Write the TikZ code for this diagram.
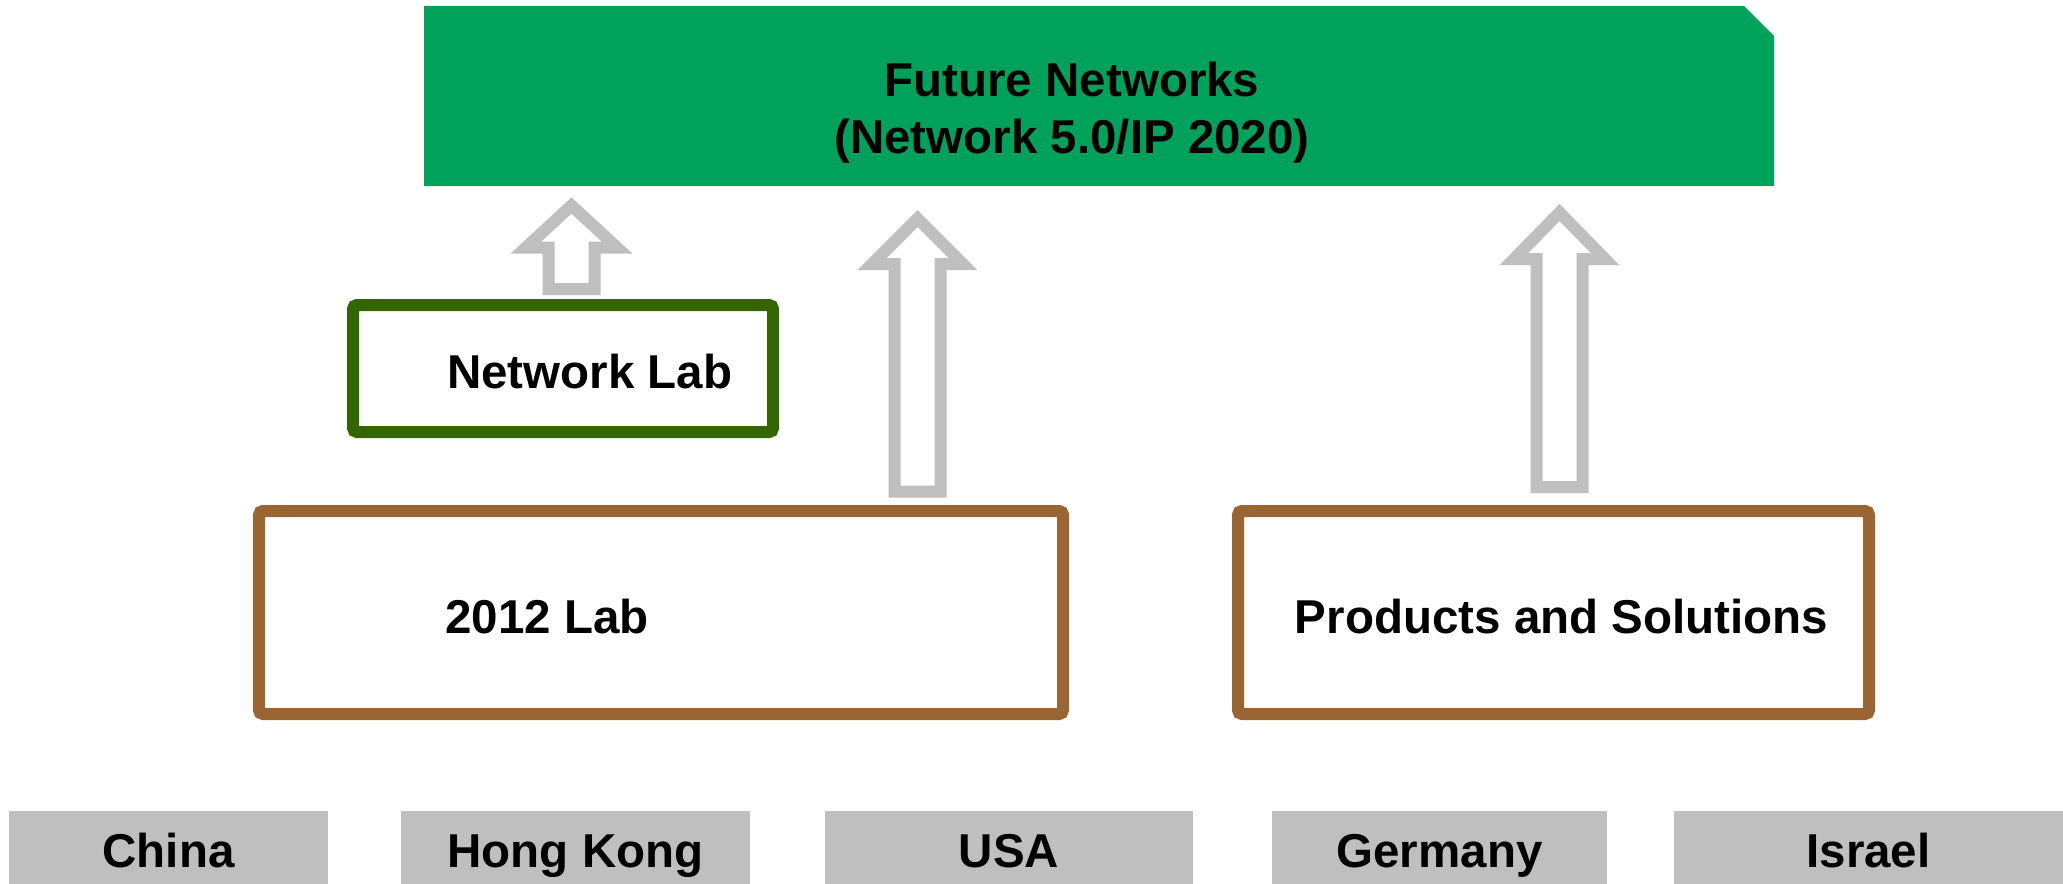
\documentclass[tikz,border=0pt]{standalone}
\usepackage{fontspec}
\setmainfont{Liberation Sans}
\usetikzlibrary{calc}
\definecolor{fngreen}{RGB}{0,161,90}
\definecolor{nlgreen}{RGB}{51,102,0}
\definecolor{labbrown}{RGB}{153,102,51}
\definecolor{arrgray}{RGB}{191,191,191}
\newcommand\blockarrow[3]{%
  \draw[blockarr] let \p1=(#1), \p2=(#2) in
    (\x1-23pt,\y1) -- (\x1-23pt,\y2-#3) -- (\x1-45.5pt,\y2-#3) -- (\x1,\y2)
    -- (\x1+45.5pt,\y2-#3) -- (\x1+23pt,\y2-#3) -- (\x1+23pt,\y1) -- cycle;}
\begin{document}
\begin{tikzpicture}[x=1pt,y=-1pt,
  txt/.style={font=\fontsize{47.5}{57}\selectfont\bfseries, inner sep=0pt},
  labbox/.style={draw=labbrown, line width=12pt, rounded corners=4pt, fill=white, inner sep=0pt},
  nlbox/.style={draw=nlgreen, line width=12pt, rounded corners=4pt, fill=white, inner sep=0pt},
  country/.style={txt, fill=arrgray, minimum height=77pt, text height=35pt, text depth=0pt},
  blockarr/.style={draw=arrgray, line width=12pt, line join=miter, fill=white}]
\useasboundingbox[fill=white] (0,0) rectangle (2063,883);

% top box
\fill[fngreen] (424,6) -- (1744,6) -- (1774,36) -- (1774,186) -- (424,186) -- cycle;
\node[inner sep=0pt, minimum width=1350pt, minimum height=180pt] (fn) at (1099,96) {};
\node[txt, anchor=base] (fnt1) at (1072,96) {Future Networks};
\node[txt, anchor=base] (fnt2) at (1072,153) {(Network 5.0/IP 2020)};

% boxes
\node[nlbox, minimum width=420pt, minimum height=127pt] (nl) at (563,368.5) {};
\node[txt, anchor=base west] (nlt) at (447,388) {Network Lab};
\node[labbox, minimum width=804pt, minimum height=203pt] (lab) at (661,612.5) {};
\node[txt, anchor=base west] (labt) at (445,633) {2012 Lab};
\node[labbox, minimum width=631pt, minimum height=203pt] (ps) at (1553.5,612.5) {};
\node[txt, anchor=base] (pst) at (1561.5,633) {Products and Solutions};

% arrows
\coordinate (a1s) at (571.5,289);
\coordinate (a1e) at (571.5,205.5);
\blockarrow{a1s}{a1e}{42pt}
\coordinate (a2s) at (917.5,491.5);
\coordinate (a2e) at (917.5,218.5);
\blockarrow{a2s}{a2e}{45.5pt}
\coordinate (a3s) at (1559.5,487);
\coordinate (a3e) at (1559.5,212.5);
\blockarrow{a3s}{a3e}{46.5pt}

% countries
\node[country, minimum width=319pt] (cn) at (168.5,849.5) {China};
\node[country, minimum width=349pt] (hk) at (575.5,849.5) {Hong Kong};
\node[country, minimum width=368pt] (us) at (1009,849.5) {USA};
\node[country, minimum width=335pt] (de) at (1439.5,849.5) {Germany};
\node[country, minimum width=389pt] (il) at (1868.5,849.5) {Israel};
\end{tikzpicture}
\end{document}
